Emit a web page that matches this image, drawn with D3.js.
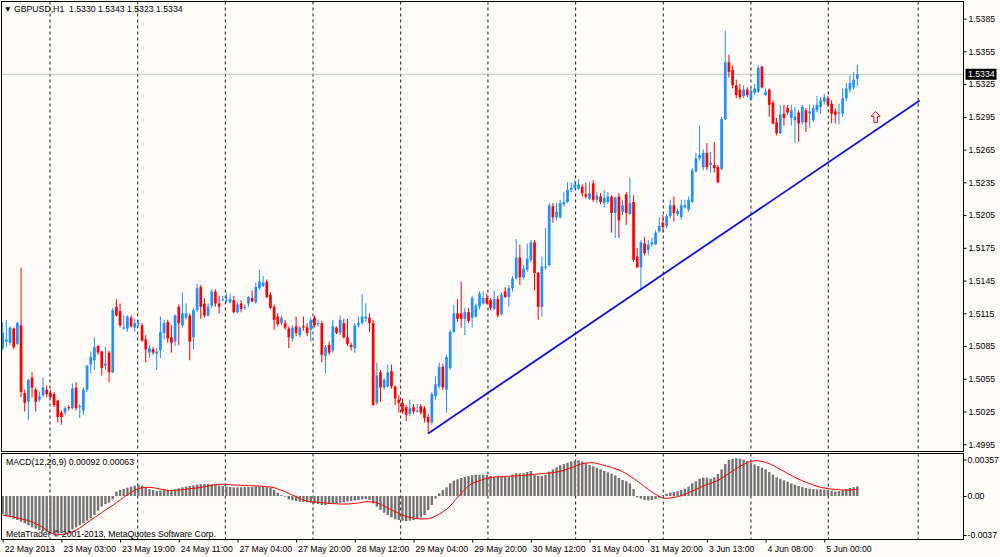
<!DOCTYPE html>
<html><head><meta charset="utf-8">
<script src="https://cdn.jsdelivr.net/npm/d3@7"></script>
<style>
html,body{margin:0;padding:0;background:#fffbf8;}
svg{display:block;}
text{font-family:"Liberation Sans",Arial,sans-serif;font-size:8.7px;fill:#000;}
</style></head><body>
<svg id="c" width="1000" height="557"></svg>
<script>
// ---------------- DATA ----------------
const symbolTitle = "GBPUSD,H1";
const open = [
1.5083,1.5089,1.5088,1.5101,1.5087,1.5104,1.5042,1.5034,1.5056,1.5045,
1.5036,1.5040,1.5045,1.5042,1.5041,1.5035,1.5024,1.5024,1.5029,1.5028,
1.5047,1.5029,1.5026,1.5045,1.5068,1.5072,1.5085,1.5080,1.5067,1.5079,
1.5061,1.5121,1.5117,1.5101,1.5101,1.5111,1.5102,1.5105,1.5104,1.5091,
1.5079,1.5082,1.5078,1.5081,1.5097,1.5107,1.5093,1.5089,1.5121,1.5104,
1.5111,1.5113,1.5093,1.5118,1.5139,1.5124,1.5113,1.5122,1.5135,1.5124,
1.5127,1.5126,1.5125,1.5127,1.5116,1.5124,1.5120,1.5124,1.5129,1.5125,
1.5138,1.5140,1.5144,1.5132,1.5121,1.5112,1.5106,1.5106,1.5101,1.5092,
1.5103,1.5095,1.5103,1.5102,1.5100,1.5111,1.5105,1.5106,1.5076,1.5086,
1.5081,1.5102,1.5097,1.5106,1.5093,1.5086,1.5083,1.5104,1.5106,1.5110,
1.5111,1.5106,1.5033,1.5061,1.5047,1.5048,1.5062,1.5048,1.5036,1.5033,
1.5029,1.5023,1.5029,1.5025,1.5030,1.5028,1.5020,1.5015,1.5039,1.5048,
1.5066,1.5045,1.5065,1.5098,1.5115,1.5115,1.5110,1.5116,1.5111,1.5112,
1.5121,1.5124,1.5129,1.5127,1.5119,1.5128,1.5114,1.5135,1.5130,1.5138,
1.5147,1.5166,1.5148,1.5155,1.5164,1.5180,1.5152,1.5121,1.5157,1.5159,
1.5213,1.5203,1.5203,1.5215,1.5217,1.5228,1.5230,1.5229,1.5231,1.5224,
1.5220,1.5234,1.5219,1.5222,1.5216,1.5217,1.5222,1.5207,1.5222,1.5208,
1.5224,1.5206,1.5217,1.5167,1.5157,1.5179,1.5173,1.5178,1.5178,1.5190,
1.5198,1.5195,1.5204,1.5214,1.5206,1.5203,1.5212,1.5210,1.5217,1.5245,
1.5257,1.5249,1.5262,1.5251,1.5251,1.5249,1.5247,1.5293,1.5345,1.5338,
1.5324,1.5320,1.5314,1.5320,1.5311,1.5317,1.5318,1.5341,1.5315,1.5320,
1.5308,1.5290,1.5280,1.5298,1.5303,1.5294,1.5292,1.5299,1.5290,1.5301,
1.5298,1.5292,1.5301,1.5304,1.5309,1.5312,1.5307,1.5300,1.5298,1.5298,
1.5312,1.5320,1.5322,1.5330];
const high = [
1.5107,1.5109,1.5103,1.5102,1.5107,1.5157,1.5045,1.5055,1.5061,1.5047,
1.5043,1.5056,1.5049,1.5045,1.5043,1.5036,1.5026,1.5030,1.5031,1.5051,
1.5052,1.5032,1.5047,1.5068,1.5080,1.5093,1.5086,1.5081,1.5084,1.5081,
1.5120,1.5128,1.5124,1.5113,1.5113,1.5113,1.5110,1.5109,1.5106,1.5095,
1.5086,1.5084,1.5083,1.5112,1.5109,1.5109,1.5104,1.5114,1.5123,1.5134,
1.5124,1.5115,1.5120,1.5142,1.5141,1.5129,1.5124,1.5137,1.5137,1.5131,
1.5131,1.5134,1.5133,1.5131,1.5125,1.5127,1.5123,1.5131,1.5136,1.5143,
1.5155,1.5149,1.5146,1.5134,1.5123,1.5115,1.5113,1.5109,1.5103,1.5104,
1.5112,1.5103,1.5112,1.5106,1.5111,1.5113,1.5109,1.5108,1.5086,1.5089,
1.5109,1.5103,1.5113,1.5110,1.5110,1.5088,1.5106,1.5112,1.5133,1.5124,
1.5115,1.5109,1.5070,1.5063,1.5056,1.5068,1.5068,1.5049,1.5040,1.5037,
1.5031,1.5036,1.5032,1.5032,1.5032,1.5030,1.5023,1.5043,1.5057,1.5070,
1.5069,1.5077,1.5100,1.5123,1.5128,1.5144,1.5120,1.5120,1.5131,1.5124,
1.5135,1.5135,1.5133,1.5129,1.5136,1.5131,1.5134,1.5139,1.5141,1.5149,
1.5183,1.5178,1.5159,1.5179,1.5182,1.5182,1.5153,1.5167,1.5193,1.5216,
1.5216,1.5216,1.5219,1.5226,1.5235,1.5235,1.5237,1.5238,1.5233,1.5235,
1.5235,1.5237,1.5226,1.5225,1.5228,1.5226,1.5223,1.5222,1.5225,1.5219,
1.5226,1.5239,1.5223,1.5175,1.5182,1.5185,1.5182,1.5184,1.5191,1.5203,
1.5205,1.5206,1.5219,1.5222,1.5211,1.5219,1.5219,1.5222,1.5248,1.5262,
1.5287,1.5265,1.5271,1.5263,1.5272,1.5251,1.5295,1.5374,1.5352,1.5342,
1.5329,1.5325,1.5324,1.5322,1.5322,1.5325,1.5342,1.5342,1.5321,1.5321,
1.5310,1.5294,1.5306,1.5306,1.5306,1.5306,1.5304,1.5301,1.5306,1.5303,
1.5306,1.5306,1.5314,1.5313,1.5316,1.5314,1.5310,1.5303,1.5307,1.5321,
1.5326,1.5333,1.5336,1.5343];
const low = [
1.5081,1.5084,1.5086,1.5082,1.5086,1.5038,1.5025,1.5017,1.5038,1.5025,
1.5034,1.5038,1.5038,1.5037,1.5029,1.5015,1.5013,1.5022,1.5026,1.5027,
1.5026,1.5019,1.5022,1.5043,1.5060,1.5063,1.5077,1.5058,1.5063,1.5052,
1.5060,1.5112,1.5102,1.5100,1.5098,1.5102,1.5098,1.5103,1.5089,1.5070,
1.5074,1.5077,1.5063,1.5074,1.5091,1.5088,1.5079,1.5085,1.5086,1.5102,
1.5109,1.5072,1.5082,1.5116,1.5110,1.5111,1.5112,1.5120,1.5121,1.5115,
1.5126,1.5125,1.5124,1.5115,1.5115,1.5116,1.5118,1.5121,1.5125,1.5124,
1.5137,1.5139,1.5129,1.5119,1.5100,1.5103,1.5104,1.5100,1.5083,1.5089,
1.5094,1.5093,1.5099,1.5094,1.5089,1.5102,1.5103,1.5070,1.5060,1.5077,
1.5079,1.5096,1.5095,1.5092,1.5085,1.5081,1.5079,1.5102,1.5105,1.5107,
1.5098,1.5030,1.5031,1.5034,1.5045,1.5047,1.5046,1.5031,1.5024,1.5023,
1.5016,1.5021,1.5023,1.5024,1.5022,1.5015,1.5005,1.5013,1.5036,1.5046,
1.5045,1.5024,1.5063,1.5097,1.5107,1.5102,1.5095,1.5106,1.5102,1.5111,
1.5119,1.5123,1.5123,1.5118,1.5118,1.5111,1.5113,1.5129,1.5121,1.5135,
1.5146,1.5141,1.5146,1.5153,1.5162,1.5136,1.5109,1.5112,1.5155,1.5158,
1.5198,1.5200,1.5202,1.5213,1.5216,1.5226,1.5228,1.5228,1.5222,1.5220,
1.5219,1.5217,1.5216,1.5215,1.5212,1.5215,1.5189,1.5184,1.5184,1.5205,
1.5196,1.5205,1.5162,1.5157,1.5136,1.5168,1.5168,1.5176,1.5178,1.5189,
1.5189,1.5193,1.5202,1.5199,1.5204,1.5201,1.5211,1.5208,1.5216,1.5244,
1.5255,1.5246,1.5246,1.5244,1.5244,1.5234,1.5246,1.5292,1.5331,1.5321,
1.5312,1.5311,1.5312,1.5313,1.5310,1.5315,1.5317,1.5321,1.5314,1.5295,
1.5288,1.5278,1.5279,1.5287,1.5297,1.5287,1.5271,1.5272,1.5288,1.5281,
1.5285,1.5290,1.5299,1.5298,1.5306,1.5304,1.5289,1.5289,1.5288,1.5295,
1.5309,1.5317,1.5320,1.5323];
const close = [
1.5097,1.5091,1.5102,1.5084,1.5106,1.5043,1.5033,1.5054,1.5047,1.5034,
1.5039,1.5047,1.5041,1.5038,1.5031,1.5020,1.5020,1.5028,1.5028,1.5046,
1.5028,1.5030,1.5045,1.5067,1.5075,1.5084,1.5079,1.5065,1.5069,1.5061,
1.5118,1.5113,1.5104,1.5102,1.5112,1.5103,1.5106,1.5106,1.5090,1.5082,
1.5083,1.5079,1.5080,1.5098,1.5106,1.5092,1.5088,1.5113,1.5106,1.5115,
1.5115,1.5089,1.5118,1.5138,1.5121,1.5113,1.5121,1.5135,1.5124,1.5121,
1.5128,1.5127,1.5128,1.5116,1.5123,1.5119,1.5121,1.5130,1.5126,1.5139,
1.5144,1.5143,1.5130,1.5120,1.5109,1.5105,1.5111,1.5102,1.5093,1.5102,
1.5097,1.5102,1.5102,1.5097,1.5109,1.5104,1.5106,1.5077,1.5084,1.5079,
1.5103,1.5097,1.5109,1.5093,1.5087,1.5084,1.5104,1.5106,1.5112,1.5112,
1.5106,1.5031,1.5058,1.5047,1.5054,1.5061,1.5048,1.5037,1.5033,1.5025,
1.5022,1.5028,1.5025,1.5026,1.5024,1.5019,1.5015,1.5041,1.5050,1.5066,
1.5047,1.5075,1.5098,1.5115,1.5110,1.5110,1.5116,1.5108,1.5129,1.5122,
1.5133,1.5129,1.5124,1.5120,1.5128,1.5113,1.5132,1.5130,1.5138,1.5147,
1.5166,1.5148,1.5156,1.5165,1.5180,1.5152,1.5121,1.5158,1.5158,1.5214,
1.5203,1.5208,1.5216,1.5217,1.5228,1.5230,1.5233,1.5233,1.5225,1.5222,
1.5225,1.5219,1.5223,1.5217,1.5221,1.5222,1.5207,1.5221,1.5200,1.5214,
1.5207,1.5216,1.5164,1.5157,1.5180,1.5170,1.5178,1.5180,1.5189,1.5195,
1.5194,1.5204,1.5214,1.5207,1.5209,1.5214,1.5214,1.5219,1.5246,1.5257,
1.5260,1.5262,1.5249,1.5253,1.5248,1.5235,1.5293,1.5345,1.5336,1.5324,
1.5315,1.5313,1.5320,1.5315,1.5319,1.5321,1.5340,1.5322,1.5318,1.5306,
1.5289,1.5280,1.5297,1.5294,1.5299,1.5301,1.5295,1.5289,1.5304,1.5290,
1.5300,1.5303,1.5306,1.5310,1.5313,1.5306,1.5298,1.5297,1.5299,1.5312,
1.5321,1.5326,1.5329,1.5334];
// MACD(12,26,9) main line (histogram) and signal line
const macdMain = [
-0.00171,-0.00190,-0.00202,-0.00215,-0.00228,-0.00244,-0.00259,-0.00278,-0.00297,-0.00310,
-0.00323,-0.00332,-0.00342,-0.00348,-0.00351,-0.00354,-0.00351,-0.00345,-0.00332,-0.00316,
-0.00297,-0.00278,-0.00259,-0.00234,-0.00212,-0.00180,-0.00139,-0.00101,-0.00076,-0.00063,
-0.00032,0.00041,0.00057,0.00066,0.00079,0.00089,0.00098,0.00108,0.00098,0.00082,
0.00066,0.00057,0.00047,0.00051,0.00057,0.00057,0.00057,0.00063,0.00073,0.00082,
0.00089,0.00095,0.00101,0.00108,0.00111,0.00114,0.00114,0.00111,0.00108,0.00101,
0.00095,0.00089,0.00085,0.00082,0.00082,0.00082,0.00085,0.00085,0.00085,0.00089,
0.00089,0.00089,0.00085,0.00079,0.00057,0.00032,0.00009,-0.00006,-0.00032,-0.00041,
-0.00047,-0.00054,-0.00057,-0.00060,-0.00063,-0.00070,-0.00076,-0.00085,-0.00085,-0.00076,
-0.00070,-0.00066,-0.00063,-0.00057,-0.00051,-0.00047,-0.00041,-0.00038,-0.00032,-0.00028,
-0.00038,-0.00070,-0.00101,-0.00133,-0.00158,-0.00180,-0.00202,-0.00221,-0.00228,-0.00234,
-0.00237,-0.00234,-0.00228,-0.00218,-0.00202,-0.00180,-0.00133,-0.00085,-0.00022,0.00025,
0.00057,0.00082,0.00120,0.00145,0.00158,0.00171,0.00183,0.00190,0.00196,0.00202,
0.00202,0.00202,0.00199,0.00190,0.00183,0.00183,0.00183,0.00180,0.00180,0.00202,
0.00215,0.00215,0.00215,0.00228,0.00237,0.00199,0.00190,0.00190,0.00199,0.00231,
0.00253,0.00272,0.00291,0.00304,0.00316,0.00329,0.00335,0.00338,0.00329,0.00310,
0.00294,0.00282,0.00269,0.00253,0.00237,0.00225,0.00212,0.00196,0.00171,0.00152,
0.00139,0.00120,0.00066,-0.00013,-0.00025,-0.00038,-0.00041,-0.00038,-0.00028,-0.00016,
0.00009,0.00022,0.00032,0.00038,0.00047,0.00057,0.00070,0.00089,0.00120,0.00139,
0.00164,0.00174,0.00174,0.00164,0.00177,0.00209,0.00253,0.00304,0.00342,0.00354,
0.00357,0.00354,0.00345,0.00332,0.00316,0.00300,0.00285,0.00269,0.00253,0.00228,
0.00202,0.00177,0.00161,0.00149,0.00136,0.00120,0.00108,0.00095,0.00085,0.00076,
0.00070,0.00066,0.00063,0.00063,0.00060,0.00057,0.00051,0.00044,0.00047,0.00057,
0.00066,0.00076,0.00085,0.00092];
const macdSignal = [
-0.00180,-0.00187,-0.00193,-0.00199,-0.00209,-0.00215,-0.00225,-0.00234,-0.00247,-0.00263,
-0.00278,-0.00300,-0.00323,-0.00348,-0.00361,-0.00364,-0.00364,-0.00361,-0.00351,-0.00338,
-0.00323,-0.00304,-0.00278,-0.00253,-0.00228,-0.00206,-0.00180,-0.00158,-0.00133,-0.00111,
-0.00089,-0.00063,-0.00038,-0.00013,0.00013,0.00035,0.00057,0.00070,0.00079,0.00082,
0.00082,0.00079,0.00073,0.00066,0.00060,0.00054,0.00051,0.00054,0.00057,0.00060,
0.00063,0.00070,0.00073,0.00076,0.00082,0.00089,0.00095,0.00101,0.00108,0.00111,
0.00111,0.00111,0.00108,0.00104,0.00104,0.00101,0.00101,0.00098,0.00098,0.00095,
0.00095,0.00092,0.00089,0.00085,0.00079,0.00066,0.00054,0.00041,0.00025,0.00009,
-0.00006,-0.00022,-0.00038,-0.00047,-0.00054,-0.00057,-0.00060,-0.00063,-0.00066,-0.00070,
-0.00073,-0.00073,-0.00076,-0.00076,-0.00076,-0.00073,-0.00070,-0.00066,-0.00060,-0.00054,
-0.00054,-0.00057,-0.00063,-0.00079,-0.00095,-0.00114,-0.00133,-0.00149,-0.00164,-0.00180,
-0.00193,-0.00202,-0.00212,-0.00215,-0.00218,-0.00218,-0.00215,-0.00206,-0.00190,-0.00171,
-0.00149,-0.00127,-0.00095,-0.00054,-0.00013,0.00025,0.00063,0.00095,0.00120,0.00133,
0.00145,0.00158,0.00168,0.00174,0.00180,0.00183,0.00183,0.00187,0.00187,0.00190,
0.00190,0.00193,0.00196,0.00199,0.00202,0.00206,0.00209,0.00212,0.00215,0.00218,
0.00221,0.00228,0.00234,0.00244,0.00256,0.00269,0.00282,0.00297,0.00307,0.00313,
0.00316,0.00316,0.00310,0.00300,0.00291,0.00282,0.00272,0.00259,0.00247,0.00231,
0.00212,0.00190,0.00168,0.00142,0.00117,0.00089,0.00063,0.00038,0.00016,-0.00003,
-0.00019,-0.00022,-0.00019,-0.00013,-0.00006,0.00003,0.00016,0.00032,0.00047,0.00063,
0.00079,0.00095,0.00108,0.00120,0.00133,0.00149,0.00168,0.00190,0.00215,0.00237,
0.00259,0.00282,0.00300,0.00316,0.00329,0.00335,0.00335,0.00329,0.00319,0.00307,
0.00291,0.00272,0.00253,0.00234,0.00215,0.00196,0.00177,0.00161,0.00145,0.00130,
0.00117,0.00104,0.00092,0.00082,0.00076,0.00070,0.00066,0.00063,0.00060,0.00057,
0.00057,0.00057,0.00060,0.00063];
const priceTicks = [1.5385,1.5355,1.5325,1.5295,1.5265,1.5235,1.5205,1.5175,1.5145,1.5115,1.5085,1.5055,1.5025,1.4995];
const macdTicks = [0.00357, 0, -0.0037];
const macdTickLabels = ["0.00357","0.00","-0.0037"];
const timeLabels = ["22 May 2013","23 May 03:00","23 May 19:00","24 May 11:00","27 May 04:00","27 May 20:00","28 May 12:00","29 May 04:00","29 May 20:00","30 May 12:00","31 May 04:00","31 May 20:00","3 Jun 13:00","4 Jun 08:00","5 Jun 00:00"];
const timeLabelBars = [0,16,32,48,64,80,96,112,128,144,160,176,192,208,224];
const daySeparatorBars = [12.9,36.8,60.7,84.6,108.5,132.3,156.2,180.1,204,225.1,249.6];
const trendBars = [116, 250];
const trendPrices = [1.5005, 1.5310];
const arrowBar = 238, arrowPrice = 1.5300;
const macdParams = "MACD(12,26,9)";
const copyright = "MetaTrader © 2001-2013, MetaQuotes Software Corp.";

// ---------------- DRAW ----------------
const svg = d3.select("#c");
const L = 1.5, R = 963.5, mT = 1.5, mB = 451.5, dT = 453.5, dB = 539.5;
const n = close.length;
const x = d3.scaleLinear().domain([0, n - 1]).range([2.7, 857.3]);
const y = d3.scaleLinear().domain([1.4995, 1.5385]).range([444.3, 18.6]);
const ym = d3.scaleLinear().domain([-0.0037, 0.00357]).range([535, 458.4]);

svg.append("rect").attr("width",1000).attr("height",557).attr("fill","#fffbf8");
const defs = svg.append("defs");
defs.append("clipPath").attr("id","cm").append("rect").attr("x",L).attr("y",mT).attr("width",R-L).attr("height",mB-mT);
defs.append("clipPath").attr("id","cd").append("rect").attr("x",L).attr("y",dT).attr("width",R-L).attr("height",dB-dT);

// grid (day separators) across both panels
const grid = svg.append("g");
[[mT,mB],[dT,dB]].forEach(([t,b])=>{
  grid.selectAll(null).data(daySeparatorBars).enter().append("line")
    .attr("x1",d=>x(d)).attr("x2",d=>x(d)).attr("y1",t).attr("y2",b)
    .attr("stroke","#1a1a1a").attr("stroke-width",1).attr("stroke-dasharray","3,3");
});

// current price line
const last = close[n-1];
svg.append("line").attr("x1",L).attr("x2",R).attr("y1",y(last)).attr("y2",y(last))
  .attr("stroke","#c4c4c4").attr("stroke-width",1);

// candles
const bull = "#1e90ff", bear = "#ff0000";
const data = d3.range(n).map(i=>({i,o:open[i],h:high[i],l:low[i],c:close[i]}));
const cg = svg.append("g").attr("clip-path","url(#cm)");
cg.selectAll(".w").data(data).enter().append("line")
  .attr("x1",d=>x(d.i)).attr("x2",d=>x(d.i))
  .attr("y1",d=>y(d.h)).attr("y2",d=>y(d.l))
  .attr("stroke",d=>d.c>=d.o?bull:bear).attr("stroke-width",1);
const bw = 2.7;
cg.selectAll(".b").data(data).enter().append("rect")
  .attr("x",d=>x(d.i)-bw/2).attr("width",bw)
  .attr("y",d=>Math.min(y(d.o),y(d.c)))
  .attr("height",d=>Math.max(1,Math.abs(y(d.o)-y(d.c))))
  .attr("fill",d=>d.c>=d.o?bull:bear);

// trend line
cg.append("line").attr("x1",x(trendBars[0])).attr("y1",y(trendPrices[0]))
  .attr("x2",x(trendBars[1])).attr("y2",y(trendPrices[1]))
  .attr("stroke","#1010e6").attr("stroke-width",1.8);

// arrow (hollow up arrow)
const ax = x(arrowBar), ay = y(arrowPrice);
cg.append("path")
  .attr("d",`M${ax},${ay} L${ax+4.5},${ay+5} L${ax+1.8},${ay+5} L${ax+1.8},${ay+11} L${ax-1.8},${ay+11} L${ax-1.8},${ay+5} L${ax-4.5},${ay+5} Z`)
  .attr("fill","#fffbf8").attr("stroke","#ff0000").attr("stroke-width",1);

// MACD histogram + signal
const dg = svg.append("g").attr("clip-path","url(#cd)");
const hw = 2.4;
dg.selectAll(".h").data(macdMain).enter().append("rect")
  .attr("x",(d,i)=>x(i)-hw/2).attr("width",hw)
  .attr("y",d=>Math.min(ym(d),ym(0)))
  .attr("height",d=>Math.max(0.5,Math.abs(ym(d)-ym(0))))
  .attr("fill","#747474");
dg.append("path").datum(macdSignal)
  .attr("d",d3.line().x((d,i)=>x(i)).y(d=>ym(d)))
  .attr("fill","none").attr("stroke","#ff0000").attr("stroke-width",1);

// frames
svg.append("rect").attr("x",L).attr("y",mT).attr("width",R-L).attr("height",mB-mT)
  .attr("fill","none").attr("stroke","#000").attr("stroke-width",1);
svg.append("rect").attr("x",L).attr("y",dT).attr("width",R-L).attr("height",dB-dT)
  .attr("fill","none").attr("stroke","#000").attr("stroke-width",1);

// price axis
const pa = svg.append("g").attr("transform",`translate(${R},0)`)
  .call(d3.axisRight(y).tickValues(priceTicks).tickFormat(d3.format(".4f")).tickSize(3).tickPadding(2));
pa.select(".domain").remove();
pa.selectAll("text").style("font-family","Liberation Sans").style("font-size","8.7px");

// current price box
svg.append("rect").attr("x",965.5).attr("y",y(last)-5.5).attr("width",31).attr("height",11).attr("fill","#000");
svg.append("text").attr("x",968).attr("y",y(last)).attr("dy","0.34em").text(d3.format(".4f")(last)).style("fill","#fff");

// MACD axis
const ma = svg.append("g").attr("transform",`translate(${R},0)`)
  .call(d3.axisRight(ym).tickValues(macdTicks).tickFormat((d,i)=>macdTickLabels[i]).tickSize(3).tickPadding(1));
ma.select(".domain").remove();
ma.selectAll("text").style("font-family","Liberation Sans").style("font-size","8.7px");
ma.selectAll(".tick").filter((d,i)=>i===0).attr("transform",`translate(0,${ym(0.00357)+1.6})`);

// time axis
const ta = svg.append("g").attr("transform",`translate(0,${dB})`)
  .call(d3.axisBottom(x).tickValues(timeLabelBars).tickFormat((d,i)=>timeLabels[i]).tickSize(3).tickPadding(2));
ta.select(".domain").remove();
ta.selectAll("text").attr("text-anchor","start").attr("dx","1.5").attr("y",6)
  .style("font-family","Liberation Sans").style("font-size","8.7px");

// header texts
svg.append("text").attr("x",5.6).attr("y",11).text("▼").style("font-size","6px").style("font-family","DejaVu Sans");
svg.append("text").attr("x",14).attr("y",12)
  .text(`${symbolTitle}  ${d3.format(".4f")(open[n-1])} ${d3.format(".4f")(high[n-1])} ${d3.format(".4f")(low[n-1])} ${d3.format(".4f")(close[n-1])}`)
  .attr("xml:space","preserve").style("white-space","pre");
svg.append("text").attr("x",6).attr("y",465)
  .text(`${macdParams} ${d3.format(".5f")(macdMain[n-1])} ${d3.format(".5f")(macdSignal[n-1])}`);
svg.append("text").attr("x",6).attr("y",537).text(copyright);
</script>
</body></html>
